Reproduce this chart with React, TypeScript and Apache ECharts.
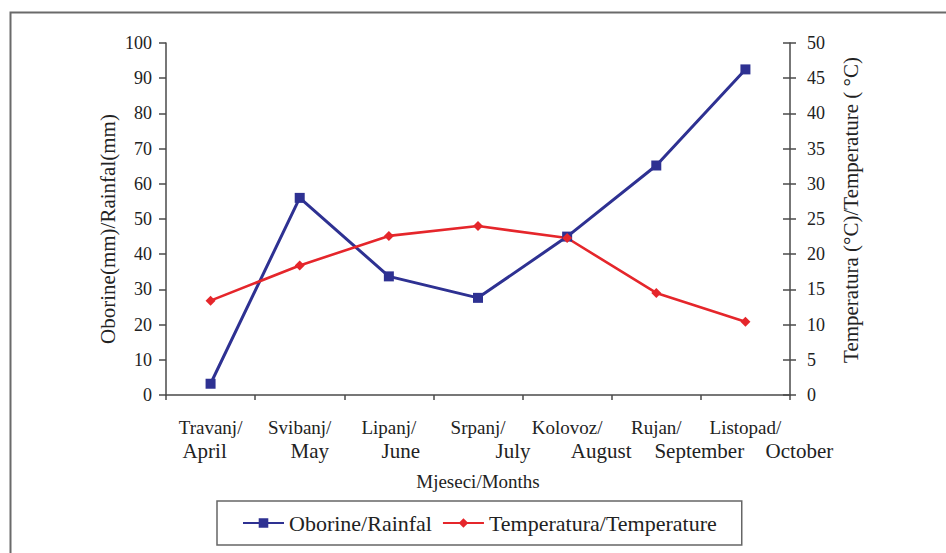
import React, { useEffect, useRef } from "react";
import * as echarts from "echarts";

const monthsTop = ["Travanj/", "Svibanj/", "Lipanj/", "Srpanj/", "Kolovoz/", "Rujan/", "Listopad/"];
const monthsBottom = ["April", "May", "June", "July", "August", "September", "October"];
const rainfall = [3.2, 56, 33.7, 27.6, 45, 65.2, 92.5];
const temperature = [13.4, 18.4, 22.6, 24, 22.3, 14.5, 10.4];
const leftTicks = { min: 0, max: 100, interval: 10 };
const rightTicks = { min: 0, max: 50, interval: 5 };

const FONT = "'Liberation Serif', 'Times New Roman', serif";
const TEXT = "#222222";
const AXIS = "#4a4a4a";
const BLUE = "#2e3192";
const RED = "#e5262b";

// horizontal shift (px) of the second label line relative to the category centre
const secondLineShift = [-6, 10, 12, 35, 34, 43, 54];

export default function App() {
  const ref = useRef<HTMLDivElement>(null);

  useEffect(() => {
    if (!ref.current) return;
    const chart = echarts.init(ref.current, undefined, { renderer: "svg" });

    const rich: any = {
      a: { fontFamily: FONT, fontSize: 19, color: TEXT, lineHeight: 24, align: "center" },
    };
    secondLineShift.forEach((s, i) => {
      rich["b" + i] = {
        fontFamily: FONT,
        fontSize: 21,
        color: TEXT,
        lineHeight: 24,
        align: "center",
        padding: s >= 0 ? [0, 0, 0, 2 * s] : [0, -2 * s, 0, 0],
      };
    });

    chart.setOption({
      animation: false,
      backgroundColor: "#ffffff",
      grid: { left: 166, right: 156, top: 43, bottom: 158, containLabel: false },
      legend: {
        left: 217,
        top: 501,
        padding: [11, 25, 11, 25],
        itemGap: 10,
        itemWidth: 41,
        itemHeight: 12,
        borderColor: "#666666",
        borderWidth: 1.5,
        textStyle: { fontFamily: FONT, fontSize: 22, color: TEXT },
        data: ["Oborine/Rainfal", "Temperatura/Temperature"],
      },
      xAxis: {
        type: "category",
        data: monthsTop,
        boundaryGap: true,
        axisLine: { lineStyle: { color: AXIS, width: 1.5 } },
        axisTick: { show: true, length: 5, inside: false, lineStyle: { color: AXIS, width: 1.5 } },
        axisLabel: {
          interval: 0,
          margin: 20,
          formatter: (v: string, i: number) => `{a|${v}}\n{b${i}|${monthsBottom[i]}}`,
          rich,
        },
        splitLine: { show: false },
      },
      yAxis: [
        {
          type: "value",
          position: "left",
          min: leftTicks.min,
          max: leftTicks.max,
          interval: leftTicks.interval,
          axisLine: { show: true, lineStyle: { color: AXIS, width: 1.5 } },
          axisTick: { show: true, length: 7, lineStyle: { color: AXIS, width: 1.5 } },
          axisLabel: { margin: 14, fontFamily: FONT, fontSize: 18, color: TEXT },
          splitLine: { show: false },
        },
        {
          type: "value",
          position: "right",
          min: rightTicks.min,
          max: rightTicks.max,
          interval: rightTicks.interval,
          axisLine: { show: true, lineStyle: { color: AXIS, width: 1.5 } },
          axisTick: { show: true, length: 6, lineStyle: { color: AXIS, width: 1.5 } },
          axisLabel: { margin: 17, fontFamily: FONT, fontSize: 18, color: TEXT },
          splitLine: { show: false },
        },
        {
          type: "value",
          position: "right",
          min: rightTicks.min,
          max: rightTicks.max,
          interval: rightTicks.interval,
          axisLine: { show: false },
          axisTick: { show: true, inside: true, length: 7, lineStyle: { color: AXIS, width: 1.5 } },
          axisLabel: { show: false },
          splitLine: { show: false },
        },
      ],
      series: [
        {
          name: "Oborine/Rainfal",
          type: "line",
          yAxisIndex: 0,
          data: rainfall,
          symbol: "rect",
          symbolSize: 10,
          itemStyle: { color: BLUE },
          lineStyle: { color: BLUE, width: 3 },
        },
        {
          name: "Temperatura/Temperature",
          type: "line",
          yAxisIndex: 1,
          data: temperature,
          symbol: "diamond",
          symbolSize: 10,
          itemStyle: { color: RED },
          lineStyle: { color: RED, width: 2.6 },
        },
      ],
      graphic: [
        {
          type: "rect",
          left: 8,
          top: 10,
          shape: { x: 0, y: 0, width: 1000, height: 600 },
          style: { fill: "none", stroke: "#6a6a6a", lineWidth: 2 },
          silent: true,
        },
        {
          type: "text",
          x: 108,
          y: 229,
          rotation: Math.PI / 2,
          style: {
            text: "Oborine(mm)/Rainfal(mm)",
            fontFamily: FONT,
            fontSize: 21,
            fill: TEXT,
            align: "center",
            verticalAlign: "middle",
          },
        },
        {
          type: "text",
          x: 851,
          y: 210,
          rotation: Math.PI / 2,
          style: {
            text: "Temperatura (°C)/Temperature ( °C)",
            fontFamily: FONT,
            fontSize: 21,
            fill: TEXT,
            align: "center",
            verticalAlign: "middle",
          },
        },
        {
          type: "text",
          x: 478,
          y: 481,
          style: {
            text: "Mjeseci/Months",
            fontFamily: FONT,
            fontSize: 19,
            fill: TEXT,
            align: "center",
            verticalAlign: "middle",
          },
        },
      ],
    });

    return () => chart.dispose();
  }, []);

  return (
    <div
      ref={ref}
      style={{ position: "absolute", left: 0, top: 0, width: 946, height: 553 }}
    />
  );
}
